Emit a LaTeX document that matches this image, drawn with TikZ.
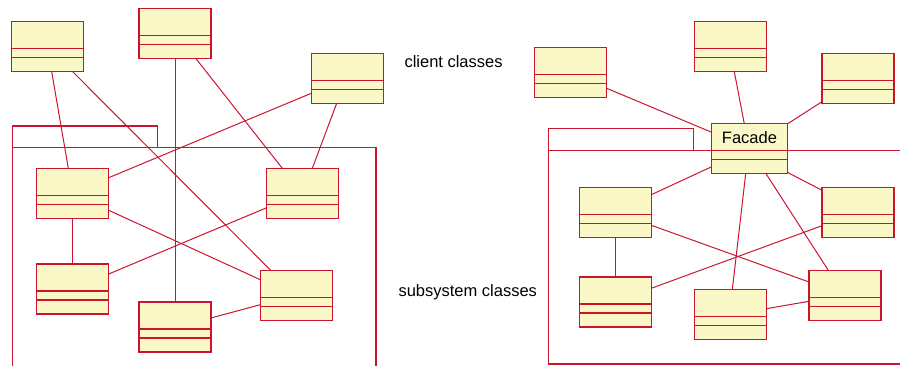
\documentclass[tikz,border=0pt]{standalone}
\usepackage{fontspec}
\setmainfont{Liberation Sans}
\usetikzlibrary{calc}
\definecolor{umlred}{RGB}{204,20,46}
\definecolor{umlfill}{RGB}{250,248,198}
\tikzset{
  cls/.style={draw=umlred, fill=umlfill, line width=1.4pt, minimum width=72pt, minimum height=50pt, inner sep=0pt, outer sep=0pt, anchor=north west},
  divline/.style={draw=umlred, line width=1.2pt},
  conn/.style={draw=umlred, line width=1pt},
  pkg/.style={draw=umlred, line width=1.2pt},
  lbl/.style={font=\fontsize{16.5}{20}\selectfont, text=black, inner sep=0pt}
}
\newcommand{\umlclass}[4][]{%
  \node[cls,#1] (#2) at (#3,#4) {};
  \draw[divline] ([yshift=-27pt]#2.north west) -- ([yshift=-27pt]#2.north east);
  \draw[divline] ([yshift=-36pt]#2.north west) -- ([yshift=-36pt]#2.north east);
}
\begin{document}
\begin{tikzpicture}[x=1pt,y=-1pt]
\useasboundingbox (0,0) rectangle (900,366);
% packages
\draw[pkg] (12.3,366) -- (12.3,126) -- (157.3,126) -- (157.3,147.3);
\draw[pkg] (12.3,147.3) -- (376,147.3) -- (376,366);
\draw[pkg] (548.3,364) -- (548.3,128.7) -- (693.7,128.7) -- (693.7,150.3);
\draw[pkg] (548.3,150.3) -- (900,150.3);
\draw[pkg] (548.3,364) -- (900,364);
% left classes
\umlclass{L1}{11.7}{21.7}
\umlclass{L2}{139}{8.3}
\umlclass{L3}{311.3}{53.3}
\umlclass{S1}{36.7}{168.3}
\umlclass{S2}{266.7}{168.3}
\umlclass{S3}{36.7}{264}
\umlclass{S4}{139}{302}
\umlclass{S5}{260.3}{270.3}
% right classes
\umlclass{R1}{534.7}{47.3}
\umlclass{R2}{694.3}{21.7}
\umlclass{R3}{822}{53.3}
\umlclass[minimum width=75.6pt]{F}{711.7}{123.7}
\umlclass{RS1}{579.3}{187.3}
\umlclass{RS2}{822}{187.3}
\umlclass{RS3}{579.3}{277}
\umlclass{RS4}{694.3}{289.7}
\umlclass{RS5}{809}{270.3}
% labels
\node[lbl] (Flabel) at ($(F.north)+(0,13.5)$) {Facade};
\node[lbl, anchor=west] (client) at (404.3,62) {client classes};
\node[lbl, anchor=west] (subsys) at (398.3,292.5) {subsystem classes};
% left connectors
\draw[conn] ($(L1.north west)+(40,50)$) -- ($(S1.north west)+(31.6,0)$);
\draw[conn] ($(L1.north west)+(61,50)$) -- ($(S5.north west)+(10.4,0)$);
\draw[conn] ($(L2.north west)+(36,50)$) -- ($(S4.north west)+(36,0)$);
\draw[conn] ($(L2.north west)+(56.7,50)$) -- ($(S2.north west)+(15.6,0)$);
\draw[conn] ($(L3.north west)+(0,40)$) -- ($(S1.north west)+(72,9.4)$);
\draw[conn] ($(L3.north west)+(25.4,50)$) -- ($(S2.north west)+(45.6,0)$);
\draw[conn] ($(S1.north west)+(36,50)$) -- ($(S3.north west)+(36,0)$);
\draw[conn] ($(S1.north west)+(72,42)$) -- ($(S5.north west)+(0,9.4)$);
\draw[conn] ($(S2.north west)+(0,39.4)$) -- ($(S3.north west)+(72,10)$);
\draw[conn] ($(S4.north west)+(72,16)$) -- ($(S5.north west)+(0,34.4)$);
% right connectors
\draw[conn] ($(R1.north west)+(72,41)$) -- ($(F.north west)+(0,8.6)$);
\draw[conn] ($(R2.north west)+(40,50)$) -- ($(F.north west)+(32.6,0)$);
\draw[conn] ($(R3.north west)+(0,48.4)$) -- ($(F.north west)+(75.6,0.3)$);
\draw[conn] ($(F.north west)+(0,43)$) -- ($(RS1.north west)+(72,7.4)$);
\draw[conn] ($(F.north west)+(34,50)$) -- ($(RS4.north west)+(38,0)$);
\draw[conn] ($(F.north west)+(54.3,50)$) -- ($(RS5.north west)+(19.3,0)$);
\draw[conn] ($(F.north west)+(75.6,48.6)$) -- ($(RS2.north west)+(0,3)$);
\draw[conn] ($(RS1.north west)+(36,50)$) -- ($(RS3.north west)+(36,0)$);
\draw[conn] ($(RS1.north west)+(72,38)$) -- ($(RS5.north west)+(0,11.7)$);
\draw[conn] ($(RS3.north west)+(72,11.3)$) -- ($(RS2.north west)+(0,38.4)$);
\draw[conn] ($(RS4.north west)+(72,19)$) -- ($(RS5.north west)+(0,31)$);
\end{tikzpicture}
\end{document}
